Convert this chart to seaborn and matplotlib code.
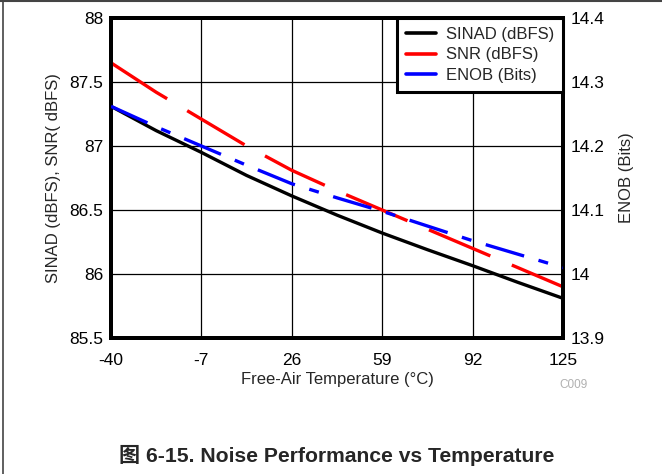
import matplotlib
matplotlib.use("Agg")
import matplotlib.pyplot as plt
from matplotlib.lines import Line2D
import pandas as pd
import seaborn as sns

# =========================
# DATA
# =========================
temps = [-40, -23.5, -7, 9.5, 26, 42.5, 59, 75.5, 92, 108.5, 125]
sinad = [87.31, 87.12, 86.95, 86.77, 86.61, 86.46, 86.32, 86.19, 86.065, 85.935, 85.81]
snr = [87.65, 87.42, 87.21, 87.0, 86.81, 86.65, 86.5, 86.35, 86.2, 86.05, 85.9]
enob = [14.262, 14.23, 14.2, 14.17, 14.141, 14.119, 14.098, 14.075, 14.052, 14.031, 14.01]
x_ticks = [-40, -7, 26, 59, 92, 125]
left_ticks = [85.5, 86, 86.5, 87, 87.5, 88]
right_ticks = [13.9, 14.0, 14.1, 14.2, 14.3, 14.4]
left_labels = ["85.5", "86", "86.5", "87", "87.5", "88"]
right_labels = ["13.9", "14", "14.1", "14.2", "14.3", "14.4"]

df = pd.DataFrame({"temp": temps, "sinad": sinad, "snr": snr, "enob": enob})

sns.set_style("white")
plt.rcParams["font.family"] = ["Liberation Sans", "Noto Sans CJK SC", "DejaVu Sans"]

W, H = 662, 474
fig = plt.figure(figsize=(W / 100, H / 100), dpi=100)
ax = fig.add_axes([111 / W, 1 - 338 / H, 452 / W, 320 / H])

sns.lineplot(data=df, x="temp", y="sinad", ax=ax, color="black", lw=2.4, zorder=4)
sns.lineplot(data=df, x="temp", y="snr", ax=ax, color="#ff0000", lw=2.4, zorder=3)
ax.lines[-1].set_dashes([20, 7])

ax2 = ax.twinx()
sns.lineplot(data=df, x="temp", y="enob", ax=ax2, color="#0000ff", lw=2.4, zorder=5)
ax2.lines[-1].set_dashes([12, 4.5, 3, 4.5])

ax.set_xlim(-40, 125)
ax.set_ylim(85.5, 88)
ax2.set_ylim(13.9, 14.4)
ax.set_xticks(x_ticks)
ax.set_xticklabels([str(t) for t in x_ticks])
ax.set_yticks(left_ticks)
ax.set_yticklabels(left_labels)
ax2.set_yticks(right_ticks)
ax2.set_yticklabels(right_labels)

ax.grid(True, color="black", lw=0.9)
ax.set_axisbelow(True)
for a in (ax, ax2):
    a.tick_params(length=0, labelsize=12.5, colors="black", pad=5.5)
    for s in a.spines.values():
        s.set_linewidth(2.8)
        s.set_color("black")
ax.tick_params(axis="x", pad=10.5)

ax.set_xlabel("Free-Air Temperature (°C)", fontsize=12, labelpad=3)
ax.set_ylabel("SINAD (dBFS), SNR( dBFS)", fontsize=12, labelpad=6)
ax2.set_ylabel("ENOB (Bits)", fontsize=12, labelpad=10)

handles = [Line2D([], [], color="black", lw=2.6),
           Line2D([], [], color="#ff0000", lw=2.6),
           Line2D([], [], color="#0000ff", lw=2.6)]
leg = ax2.legend(handles, ["SINAD (dBFS)", "SNR (dBFS)", "ENOB (Bits)"],
                 loc="upper right", fontsize=12, frameon=True, fancybox=False,
                 borderaxespad=0, handlelength=1.8, labelspacing=0.32,
                 borderpad=0.55, handletextpad=0.55)
leg.get_frame().set_edgecolor("black")
leg.get_frame().set_linewidth(2.2)
leg.get_frame().set_alpha(1)

fig.text(588 / W, 1 - 385 / H, "C009", color="#b0b0b0", fontsize=8.5,
         ha="right", va="center")
fig.text(337 / W, 1 - 455 / H, "图 6-15. Noise Performance vs Temperature",
         fontsize=15.2, fontweight="bold", ha="center", va="center")

# page frame (left and top edges)
fig.add_artist(Line2D([3 / W, 3 / W], [0, 1], color="#444444", lw=1.2))
fig.add_artist(Line2D([0, 1], [1 - 1 / H, 1 - 1 / H], color="#444444", lw=1.5))

fig.savefig("out.png", dpi=100)
